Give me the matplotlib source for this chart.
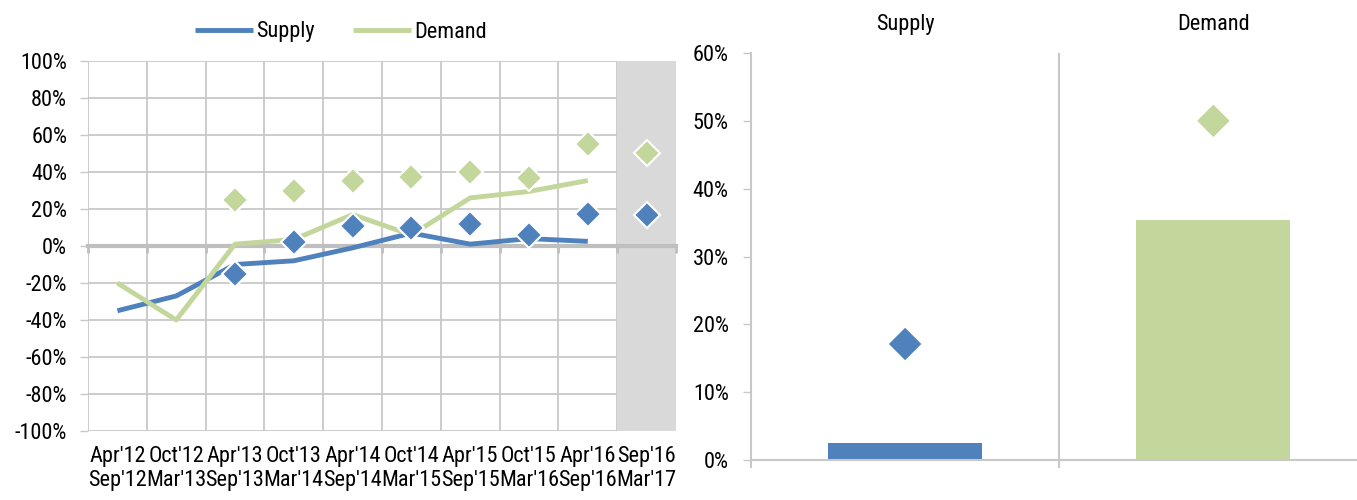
import numpy as np
import matplotlib
matplotlib.use("Agg")
import matplotlib.pyplot as plt
from matplotlib import font_manager
from matplotlib.ticker import FuncFormatter

# ---------------- data ----------------
categories = ["Apr'12\nSep'12", "Oct'12\nMar'13", "Apr'13\nSep'13", "Oct'13\nMar'14",
              "Apr'14\nSep'14", "Oct'14\nMar'15", "Apr'15\nSep'15", "Oct'15\nMar'16",
              "Apr'16\nSep'16", "Sep'16\nMar'17"]
supply_line = [-35, -27, -10, -8, -1, 7, 1, 4, 2.5]
demand_line = [-20, -40, 1, 3.5, 17, 6, 26, 29.5, 35.4]
supply_pts = [np.nan, np.nan, -15, 2, 11, 9.5, 12, 6, 17.5, 17]
demand_pts = [np.nan, np.nan, 25, 29.5, 35, 37.5, 40, 36.5, 55, 50.5]

bar_labels = ["Supply", "Demand"]
bar_values = [2.5, 35.4]
bar_points = [17.1, 50.0]

BLUE = "#4F81BD"
GREEN = "#C3D69B"
GRID = "#C8C8C8"
SHADE = "#D9D9D9"

# ---------------- fonts ----------------
avail = {f.name for f in font_manager.fontManager.ttflist}
fams = [f for f in ["Liberation Sans Narrow", "Roboto Condensed", "DejaVu Sans"] if f in avail]
plt.rcParams["font.family"] = fams if fams else ["DejaVu Sans"]
FS = 16

fig = plt.figure(figsize=(13.57, 5.0), dpi=100)

# ---------------- left chart ----------------
ax = fig.add_axes([88 / 1357, 1 - 431 / 500, (676 - 88) / 1357, (431 - 61) / 500])
n = len(categories)
x = np.arange(n)
ax.set_xlim(-0.5, n - 0.5)
ax.set_ylim(-100, 100)
ax.set_yticks(np.arange(-100, 101, 20))
ax.yaxis.set_major_formatter(FuncFormatter(lambda v, p: f"{int(round(v))}%"))
ax.tick_params(axis="y", length=6, width=1, color=GRID, pad=9, labelsize=FS)

# grid
for yv in np.arange(-100, 101, 20):
    ax.axhline(yv, color=GRID, lw=1.3, zorder=0.5)
for xb in np.arange(-0.5, n - 0.5, 1.0):
    ax.axvline(xb, color=GRID, lw=1.3, zorder=0.5)
ax.axvspan(n - 1.5, n - 0.5, color=SHADE, zorder=1, lw=0)

for s in ["top", "right", "left"]:
    ax.spines[s].set_visible(False)
ax.spines["bottom"].set_position(("data", 0))
ax.spines["bottom"].set_color("#BFBFBF")
ax.spines["bottom"].set_linewidth(3)
ax.spines["bottom"].set_zorder(2)
ax.set_xticks(np.arange(-0.5, n, 1.0))
ax.tick_params(axis="x", length=5, width=2, color="#BFBFBF", labelbottom=False)

ax.plot(x[:len(supply_line)], supply_line, color=BLUE, lw=3.5, zorder=3, label="Supply",
        solid_capstyle="butt")
ax.plot(x[:len(demand_line)], demand_line, color=GREEN, lw=3.5, zorder=3, label="Demand",
        solid_capstyle="butt")
ax.plot(x, supply_pts, ls="none", marker="D", ms=13, mfc=BLUE, mec="white", mew=1.5, zorder=4)
ax.plot(x, demand_pts, ls="none", marker="D", ms=13, mfc=GREEN, mec="white", mew=1.5, zorder=4)

sec = ax.secondary_xaxis("bottom", functions=(lambda v: v, lambda v: v))
sec.set_xticks(x)
sec.set_xticklabels(categories, fontsize=FS, linespacing=1.2)
sec.tick_params(length=0, pad=11)
sec.spines["bottom"].set_visible(False)
sec.set_location(0.0)

leg = ax.legend(loc="center", bbox_to_anchor=(341 / 1357, 1 - 32 / 500),
                bbox_transform=fig.transFigure, ncol=2, frameon=False, fontsize=FS,
                handlelength=2.6, handletextpad=0.15, columnspacing=1.7)

# ---------------- right chart ----------------
ax2 = fig.add_axes([751 / 1357, 1 - 460 / 500, (1357 - 751) / 1357, (460 - 53) / 500])
bx = np.arange(len(bar_labels))
ax2.set_xlim(-0.5, 1.466)
ax2.set_ylim(0, 60)
ax2.bar(bx, bar_values, width=0.5, color=[BLUE, GREEN], zorder=2)
ax2.scatter(bx, bar_points, marker="D", s=[16.5 ** 2] * 2, c=[BLUE, GREEN], zorder=3, linewidths=0)
ax2.set_yticks(np.arange(0, 61, 10))
ax2.yaxis.set_major_formatter(FuncFormatter(lambda v, p: f"{int(round(v))}%"))
ax2.tick_params(axis="y", length=6, width=1, color=GRID, pad=10, labelsize=FS)
for s in ["top", "right"]:
    ax2.spines[s].set_visible(False)
for s in ["left", "bottom"]:
    ax2.spines[s].set_color(GRID)
    ax2.spines[s].set_linewidth(1.5)
ax2.set_xticks([-0.5, 0.5])
ax2.tick_params(axis="x", length=6, width=1.5, color=GRID, labelbottom=False)
ax2.axvline(0.5, color=GRID, lw=1.5, zorder=1)

top = ax2.secondary_xaxis("top", functions=(lambda v: v, lambda v: v))
top.set_xticks(bx)
top.set_xticklabels(bar_labels, fontsize=FS)
top.tick_params(length=0, pad=13)
top.spines["top"].set_visible(False)

fig.savefig("out.png", dpi=100)
